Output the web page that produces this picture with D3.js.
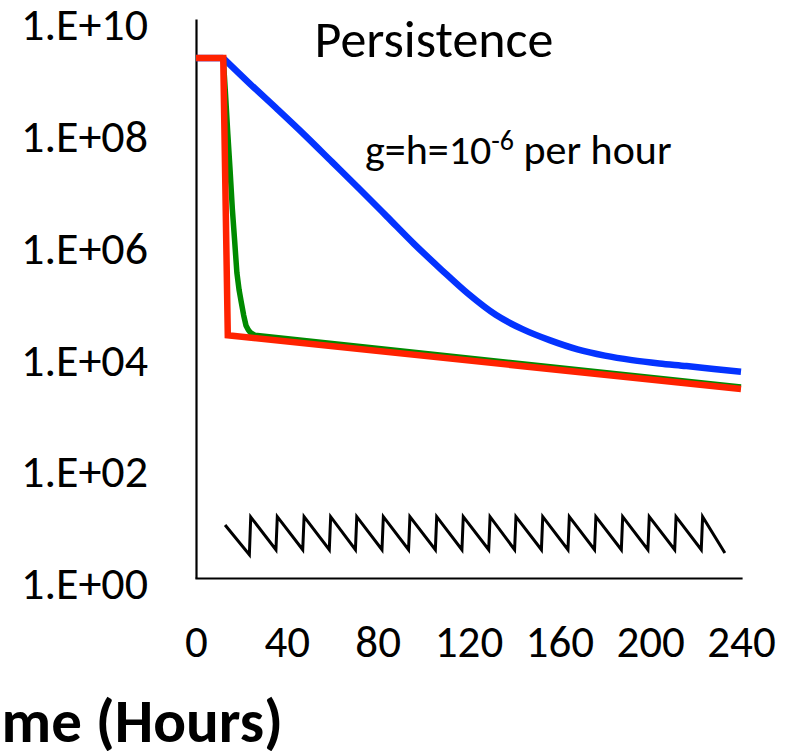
<!DOCTYPE html>
<html>
<head>
<meta charset="utf-8">
<script src="https://cdn.jsdelivr.net/npm/d3@7"></script>
<style>
  html, body { margin: 0; padding: 0; background: #ffffff; overflow: hidden; }
  svg { display: block; font-family: Carlito, Calibri, Lato, sans-serif; }
</style>
</head>
<body>
<svg id="chart" width="789" height="751"></svg>
<script>
// Cell counts over time (hours) on a log scale
const xTickValues = [0, 40, 80, 120, 160, 200, 240];
const yTickValues = [1e0, 1e2, 1e4, 1e6, 1e8, 1e10];
const yTickLabels = ["1.E+00", "1.E+02", "1.E+04", "1.E+06", "1.E+08", "1.E+10"];

// Blue series: slow kill, then persister tail
const blueHours  = [0, 12, 24, 36, 48, 60, 72, 84, 96, 108, 120, 132, 144, 156, 168, 180, 192, 204, 216, 228, 240];
const blueCounts = [2.0e9, 2.0e9, 6.8e8, 2.4e8, 8.3e7, 2.75e7, 9.1e6, 2.95e6, 9.5e5, 3.3e5, 1.2e5, 5.1e4, 2.8e4,
                    1.78e4, 1.23e4, 9.5e3, 7.9e3, 6.9e3, 6.2e3, 5.5e3, 4.9e3];

// Green series: fast kill with a short lag
const greenHours  = [0, 12, 13, 14, 15, 16, 17, 18, 19, 20, 21, 22, 23, 24, 26, 240];
const greenCounts = [2.0e9, 2.0e9, 4.5e8, 8.9e7, 2.0e7, 4.0e6, 1.1e6, 2.9e5, 1.4e5, 8.3e4, 5.0e4, 3.3e4, 2.75e4, 2.45e4, 2.2e4, 2.6e3];

// Red series: immediate kill
const redHours  = [0, 12, 14, 240];
const redCounts = [2.0e9, 2.0e9, 2.2e4, 2.4e3];

// Black series: drug concentration with repeated dosing
const doseHours = [12.8, 23.5, 24.1, 35.2, 35.8, 47.0, 47.6, 58.7, 59.3, 70.2, 70.8, 81.9, 82.5, 93.6, 94.2, 105.4, 106.0,
                   117.1, 117.7, 128.9, 129.5, 140.3, 140.9, 152.1, 152.7, 163.8, 164.4, 175.5, 176.1, 187.3, 187.9,
                   199.0, 199.6, 210.8, 211.4, 222.5, 223.1, 232.9];
const doseLevels = [8.9, 2.6, 12.3, 3.2, 12.5, 3.2, 12.5, 3.2, 12.5, 3.2, 12.5, 3.2, 12.5, 3.2, 12.5, 3.2, 12.5,
                    3.2, 12.5, 3.2, 12.5, 3.2, 12.5, 3.2, 12.5, 3.2, 12.5, 3.2, 12.5, 3.2, 12.5,
                    3.2, 12.5, 3.2, 12.5, 3.2, 12.5, 2.8];

const FONT = "Carlito, Calibri, Lato, sans-serif";
const svg = d3.select("#chart");

const x = d3.scaleLinear().domain([0, 240]).range([196, 741]);
const y = d3.scaleLog().domain([1, 1e10]).range([578, 19]);

// Axes: plain black lines, no tick marks
const yAxis = svg.append("g")
  .attr("transform", "translate(196,0)")
  .call(d3.axisLeft(y).tickValues(yTickValues)
    .tickFormat((d, i) => yTickLabels[i])
    .tickSize(0).tickSizeOuter(0).tickPadding(48));
yAxis.select(".domain").attr("stroke", "#000").attr("stroke-width", 2.2);
yAxis.selectAll("text")
  .attr("font-family", FONT)
  .attr("font-size", 46).attr("fill", "#000").attr("dy", "0.45em");

const xAxis = svg.append("g")
  .attr("transform", "translate(0,578)")
  .call(d3.axisBottom(x).tickValues(xTickValues)
    .tickFormat(d3.format("d"))
    .tickSize(0).tickSizeOuter(0).tickPadding(47));
xAxis.select(".domain").attr("stroke", "#000").attr("stroke-width", 2.2).attr("stroke-linecap", "square");
xAxis.selectAll("text")
  .attr("font-family", FONT)
  .attr("font-size", 45).attr("fill", "#000").attr("dy", "0.71em");

// Series lines
const pts = (hs, vs) => hs.map((h, i) => [h, vs[i]]);
const lineLinear = d3.line().x(d => x(d[0])).y(d => y(d[1]));
const lineSmooth = d3.line().x(d => x(d[0])).y(d => y(d[1])).curve(d3.curveMonotoneX);

svg.append("path").datum(pts(doseHours, doseLevels))
  .attr("d", lineLinear).attr("fill", "none")
  .attr("stroke", "#000").attr("stroke-width", 3).attr("stroke-linejoin", "miter");

// Blue: flat until dosing begins, then a smooth decline
const bluePts = pts(blueHours, blueCounts);
const blueStart = bluePts.findIndex(d => d[0] === 12);
const blueGroup = svg.append("g")
  .attr("fill", "none").attr("stroke", "#0433ff").attr("stroke-width", 6.5)
  .attr("stroke-linejoin", "round");
blueGroup.append("path").datum(bluePts.slice(0, blueStart + 1)).attr("d", lineLinear);
blueGroup.append("path").datum(bluePts.slice(blueStart)).attr("d", lineSmooth);

svg.append("path").datum(pts(greenHours, greenCounts))
  .attr("d", lineLinear).attr("fill", "none")
  .attr("stroke", "#008a00").attr("stroke-width", 5.5).attr("stroke-linejoin", "round");

svg.append("path").datum(pts(redHours, redCounts))
  .attr("d", lineLinear).attr("fill", "none")
  .attr("stroke", "#ff2200").attr("stroke-width", 6.5).attr("stroke-linejoin", "miter");

// Title and annotation
svg.append("text")
  .attr("x", 434).attr("y", 57).attr("text-anchor", "middle")
  .attr("font-family", FONT).attr("font-size", 52).attr("fill", "#000")
  .text("Persistence");

const note = svg.append("text")
  .attr("x", 365).attr("y", 164)
  .attr("font-family", FONT).attr("font-size", 42).attr("fill", "#000");
note.append("tspan").text("g=h=10");
note.append("tspan").attr("font-size", 28).attr("dy", -14).text("-6");
note.append("tspan").attr("dy", 14).text(" per hour");

// X axis title (its left end runs past the edge of the figure)
svg.append("text")
  .attr("x", 283).attr("y", 742).attr("text-anchor", "end")
  .attr("font-family", FONT).attr("font-size", 61).attr("font-weight", "bold").attr("fill", "#000")
  .text("Time (Hours)");
</script>
</body>
</html>
